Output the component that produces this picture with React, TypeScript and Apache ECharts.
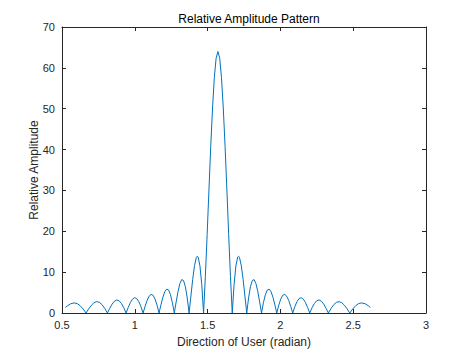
import { useEffect, useRef } from "react";
import * as echarts from "echarts";

const direction = [
  0.5236, 0.5352, 0.5586, 0.5828, 0.6043, 0.6245, 0.6449, 0.6652,
  0.6835, 0.7019, 0.7202, 0.7386, 0.7569, 0.7753, 0.7936, 0.812,
  0.828, 0.844, 0.86, 0.8761, 0.8921, 0.9081, 0.9242, 0.9402,
  0.9548, 0.9694, 0.984, 0.9985, 1.0131, 1.0277, 1.0423, 1.0569,
  1.0706, 1.0843, 1.098, 1.1117, 1.1255, 1.1392, 1.1529, 1.1666,
  1.1797, 1.1928, 1.2059, 1.219, 1.2321, 1.2452, 1.2583, 1.2714,
  1.2841, 1.2968, 1.3095, 1.3221, 1.3348, 1.3475, 1.3602, 1.3729,
  1.3853, 1.3977, 1.4102, 1.4226, 1.4288, 1.435, 1.4474, 1.4599, 1.4723,
  1.4846, 1.4969, 1.5092, 1.5215, 1.5339, 1.5462, 1.5585, 1.5708,
  1.5831, 1.5954, 1.6077, 1.6201, 1.6324, 1.6447, 1.657, 1.6693,
  1.6817, 1.6942, 1.7066, 1.7128, 1.719, 1.7314, 1.7439, 1.7563, 1.7687,
  1.7814, 1.7941, 1.8068, 1.8195, 1.8321, 1.8448, 1.8575, 1.8702,
  1.8833, 1.8964, 1.9095, 1.9226, 1.9357, 1.9488, 1.9619, 1.975,
  1.9887, 2.0024, 2.0161, 2.0299, 2.0436, 2.0573, 2.071, 2.0847,
  2.0993, 2.1139, 2.1285, 2.1431, 2.1576, 2.1722, 2.1868, 2.2014,
  2.2174, 2.2335, 2.2495, 2.2655, 2.2816, 2.2976, 2.3136, 2.3296,
  2.348, 2.3663, 2.3847, 2.403, 2.4214, 2.4397, 2.4581, 2.4764,
  2.4967, 2.5171, 2.5373, 2.5588, 2.583, 2.6064, 2.618,
];

const amplitude = [
  1.35, 1.7, 2.25, 2.47, 2.31, 1.79, 0.99, 0,
  1.02, 1.9, 2.53, 2.78, 2.61, 2.03, 1.12, 0,
  1.16, 2.17, 2.89, 3.19, 3.0, 2.34, 1.29, 0,
  1.35, 2.54, 3.39, 3.75, 3.54, 2.77, 1.54, 0,
  1.61, 3.06, 4.1, 4.56, 4.34, 3.41, 1.9, 0,
  2.02, 3.86, 5.22, 5.85, 5.6, 4.45, 2.5, 0,
  2.72, 5.25, 7.19, 8.17, 7.94, 6.42, 3.68, 0,
  4.16, 8.24, 11.59, 13.59, 13.91, 13.7, 11.53, 6.93, 0,
  8.91, 19.21, 30.12, 40.75, 50.19, 57.62, 62.37, 64,
  62.37, 57.62, 50.19, 40.75, 30.12, 19.21, 8.91, 0,
  6.93, 11.53, 13.7, 13.91, 13.59, 11.59, 8.24, 4.16, 0,
  3.68, 6.42, 7.94, 8.17, 7.19, 5.25, 2.72, 0,
  2.5, 4.45, 5.6, 5.85, 5.22, 3.86, 2.02, 0,
  1.9, 3.41, 4.34, 4.56, 4.1, 3.06, 1.61, 0,
  1.54, 2.77, 3.54, 3.75, 3.39, 2.54, 1.35, 0,
  1.29, 2.34, 3.0, 3.19, 2.89, 2.17, 1.16, 0,
  1.12, 2.03, 2.61, 2.78, 2.53, 1.9, 1.02, 0,
  0.99, 1.79, 2.31, 2.47, 2.25, 1.7, 1.35,
];

const xMin = 0.5;
const xMax = 3;
const xStep = 0.5;
const yMin = 0;
const yMax = 70;
const yStep = 10;

const titleText = "Relative Amplitude Pattern";
const xName = "Direction of User (radian)";
const yName = "Relative Amplitude";

const FONT = "'Liberation Sans', Arial, Helvetica, sans-serif";
const AXIS = "#262626";

export default function App() {
  const ref = useRef<HTMLDivElement>(null);
  useEffect(() => {
    if (!ref.current) return;
    const chart = echarts.init(ref.current, null, { renderer: "svg" });
    const axisLine = { show: true, onZero: false, lineStyle: { color: AXIS, width: 1 } };
    const tick = { show: true, inside: true, length: 4, lineStyle: { color: AXIS, width: 1 } };
    const labels = { color: AXIS, fontSize: 11, fontFamily: FONT };
    chart.setOption({
      animation: false,
      backgroundColor: "#ffffff",
      title: {
        text: titleText,
        left: 244,
        textAlign: "center",
        top: 8,
        textStyle: { fontSize: 12, fontWeight: "normal", color: "#000", fontFamily: FONT },
      },
      grid: { left: 62, right: 45, top: 27, bottom: 39 },
      xAxis: [
        {
          type: "value",
          min: xMin,
          max: xMax,
          interval: xStep,
          position: "bottom",
          axisLine,
          axisTick: tick,
          splitLine: { show: false },
          axisLabel: { ...labels, margin: 6 },
          name: xName,
          nameLocation: "middle",
          nameGap: 23,
          nameMoveOverlap: false,
          nameTextStyle: { fontSize: 12, color: AXIS, fontFamily: FONT },
        },
        {
          type: "value",
          min: xMin,
          max: xMax,
          interval: xStep,
          position: "top",
          axisLine,
          axisTick: tick,
          splitLine: { show: false },
          axisLabel: { show: false },
        },
      ],
      yAxis: [
        {
          type: "value",
          min: yMin,
          max: yMax,
          interval: yStep,
          position: "left",
          axisLine,
          axisTick: tick,
          splitLine: { show: false },
          axisLabel: { ...labels, margin: 7 },
          name: yName,
          nameLocation: "middle",
          nameGap: 22,
          nameMoveOverlap: false,
          nameTextStyle: { fontSize: 12, color: AXIS, fontFamily: FONT },
        },
        {
          type: "value",
          min: yMin,
          max: yMax,
          interval: yStep,
          position: "right",
          axisLine,
          axisTick: tick,
          splitLine: { show: false },
          axisLabel: { show: false },
        },
      ],
      series: [
        {
          type: "line",
          xAxisIndex: 0,
          yAxisIndex: 0,
          showSymbol: false,
          symbol: "none",
          lineStyle: { color: "#0072BD", width: 1 },
          data: direction.map((x, i) => [x, amplitude[i]]),
        },
      ],
    });
    return () => chart.dispose();
  }, []);
  return (
    <div
      ref={ref}
      style={{ position: "fixed", left: 0, top: 0, width: 471, height: 353, background: "#fff" }}
    />
  );
}
